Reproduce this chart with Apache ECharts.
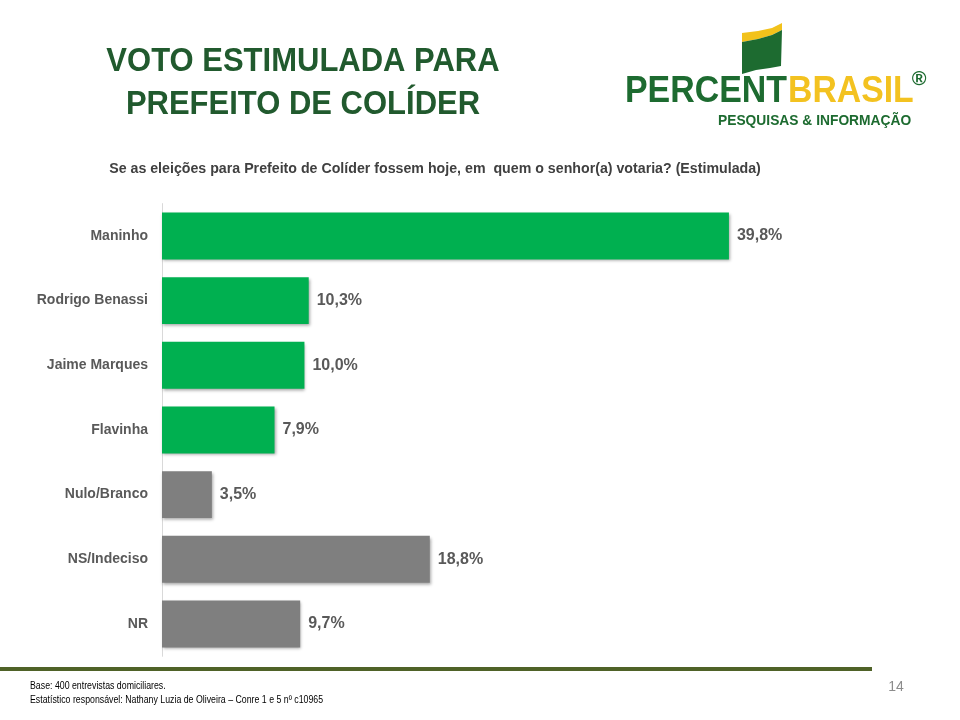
<!DOCTYPE html>
<html>
<head>
<meta charset="utf-8">
<script src="https://cdn.jsdelivr.net/npm/echarts@6/dist/echarts.min.js"></script>
<style>
html,body{margin:0;padding:0;background:#fff;}
#chart{width:960px;height:720px;}
</style>
</head>
<body>
<div id="chart"></div>
<script>
const categories = ['Maninho','Rodrigo Benassi','Jaime Marques','Flavinha','Nulo/Branco','NS/Indeciso','NR'];
const values = [39.8, 10.3, 10.0, 7.9, 3.5, 18.8, 9.7];
const barColors = ['#00B050','#00B050','#00B050','#00B050','#7F7F7F','#7F7F7F','#7F7F7F'];

const FF = '"Liberation Sans", Arial, sans-serif';
const chart = echarts.init(document.getElementById('chart'));

const data = values.map((v,i)=>({value:v, itemStyle:{color:barColors[i]}}));

chart.setOption({
  animation:false,
  backgroundColor:'#ffffff',
  grid:{left:162, right:157, top:203.6, bottom:63.7},
  xAxis:{type:'value', min:0, max:45, show:false},
  yAxis:{
    type:'category', data:categories, inverse:true,
    axisLine:{show:true, lineStyle:{color:'#D9D9D9', width:1}},
    axisTick:{show:false},
    axisLabel:{color:'#595959', fontWeight:'bold', fontSize:14, fontFamily:FF, margin:14}
  },
  series:[{
    type:'bar', data:data, barCategoryGap:'27.4%',
    itemStyle:{shadowColor:'rgba(0,0,0,0.35)', shadowBlur:3, shadowOffsetX:1, shadowOffsetY:2},
    label:{show:true, position:'right', distance:8, color:'#595959', fontWeight:'bold', fontSize:16, fontFamily:FF,
      formatter:p=>p.value.toFixed(1).replace('.',',')+'%'}
  }],
  graphic:[
    {type:'text', x:303, y:62, scaleY:1.07, style:{text:'VOTO ESTIMULADA PARA', fill:'#215A2E', font:'bold 31px '+FF, textAlign:'center', textVerticalAlign:'middle'}},
    {type:'text', x:303, y:105, scaleY:1.07, style:{text:'PREFEITO DE COLÍDER', fill:'#215A2E', font:'bold 31px '+FF, textAlign:'center', textVerticalAlign:'middle'}},
    {type:'text', x:435, y:169, scaleX:1.014, style:{text:'Se as eleições para Prefeito de Colíder fossem hoje, em  quem o senhor(a) votaria? (Estimulada)', fill:'#404040', font:'bold 14px '+FF, textAlign:'center', textVerticalAlign:'middle'}},
    // logo flag
    {type:'polygon', shape:{points:[[742,33],[758,31],[772,28],[782,23],[782,30],[772,35],[758,39],[742,42]]}, style:{fill:'#F2C21B'}},
    {type:'polygon', shape:{points:[[742,42],[758,39],[772,35],[782,30],[781,66],[770,68],[756,70],[742,74]]}, style:{fill:'#1D6B30'}},
    {type:'text', x:625, y:92, scaleY:1.18, scaleX:1.06, style:{text:'PERCENT', fill:'#1D6B30', font:'bold 32px '+FF, textAlign:'left', textVerticalAlign:'middle'}},
    {type:'text', x:788, y:92, scaleY:1.18, scaleX:1.055, style:{text:'BRASIL', fill:'#F3C220', font:'bold 32px '+FF, textAlign:'left', textVerticalAlign:'middle'}},
    {type:'text', x:919, y:79, style:{text:'®', fill:'#1D6B30', font:'bold 20px '+FF, textAlign:'center', textVerticalAlign:'middle'}},
    {type:'text', x:718, y:121, scaleX:0.92, style:{text:'PESQUISAS & INFORMAÇÃO', fill:'#1D6B30', font:'bold 15px '+FF, textAlign:'left', textVerticalAlign:'middle'}},
    // footer
    {type:'rect', shape:{x:0, y:667, width:872, height:4}, style:{fill:'#4F6228'}},
    {type:'text', x:30, y:686, scaleX:0.878, scaleY:1.1, style:{text:'Base: 400 entrevistas domiciliares.', fill:'#000000', font:'10px '+FF, textAlign:'left', textVerticalAlign:'middle'}},
    {type:'text', x:30, y:700, scaleX:0.878, scaleY:1.1, style:{text:'Estatístico responsável: Nathany Luzia de Oliveira – Conre 1 e 5 nº c10965', fill:'#000000', font:'10px '+FF, textAlign:'left', textVerticalAlign:'middle'}},
    {type:'text', x:896, y:687, style:{text:'14', fill:'#8C8C8C', font:'14px '+FF, textAlign:'center', textVerticalAlign:'middle'}}
  ]
});
</script>
</body>
</html>
